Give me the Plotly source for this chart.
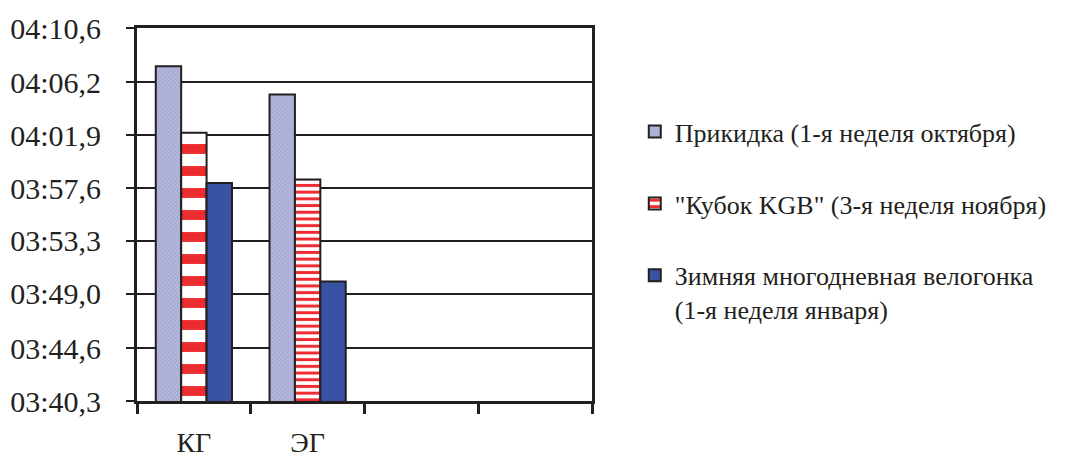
import plotly.graph_objects as go

# ---- data ----
categories = ["КГ", "ЭГ"]
n_slots = 4  # the category axis has four slots, two of them empty
series_names = [
    "Прикидка (1-я неделя октября)",
    "\"Кубок KGB\" (3-я неделя ноября)",
    "Зимняя многодневная велогонка<br>(1-я неделя января)",
]
# times in seconds
prikidka = [247.5, 245.2]
kubok = [242.1, 238.3]
zimnyaya = [238.0, 230.0]
y_tick_labels = ["03:40,3", "03:44,6", "03:49,0", "03:53,3",
                 "03:57,6", "04:01,9", "04:06,2", "04:10,6"]


def to_sec(s):
    m, rest = s.split(":")
    return int(m) * 60 + float(rest.replace(",", "."))


y_tick_vals = [to_sec(s) for s in y_tick_labels]

FONT = "Liberation Serif"
TXT = "#231f20"
x_pos = list(range(len(categories)))

fig = go.Figure()
fig.add_trace(go.Bar(
    x=x_pos, y=prikidka, name=series_names[0], legendgroup="a",
    marker=dict(color="#a9aed7", line=dict(color="#231f20", width=2),
                pattern=dict(shape="x", size=3, solidity=0.25,
                             fgcolor="#8e94c6", bgcolor="#b4b8dc", fillmode="replace")),
))
fig.add_trace(go.Bar(
    x=x_pos, y=kubok, name=series_names[1], legendgroup="b",
    marker=dict(color="#ee2b2e", line=dict(color="#231f20", width=2),
                pattern=dict(shape="-", size=[22, 6.7], solidity=0.45,
                             fgcolor="#ee2b2e", bgcolor="#ffffff", fillmode="replace")),
))
fig.add_trace(go.Bar(
    x=x_pos, y=zimnyaya, name=series_names[2], legendgroup="c",
    marker=dict(color="#3a52a3", line=dict(color="#231f20", width=2)),
))

fig.update_layout(
    width=1075, height=459,
    margin=dict(l=137, r=483, t=28, b=58, autoexpand=False),
    paper_bgcolor="white", plot_bgcolor="white",
    barmode="group", bargap=0.33, bargroupgap=0,
    font=dict(family=FONT, color=TXT),
    showlegend=True,
    legend=dict(
        x=1.094, xanchor="left", y=0.785, yanchor="top",
        font=dict(family=FONT, size=26, color=TXT),
        traceorder="grouped", tracegroupgap=35,
        itemwidth=30, valign="top", bgcolor="rgba(0,0,0,0)",
    ),
    xaxis=dict(
        range=[-0.5, n_slots - 0.5], automargin=False,
        tickmode="array", tickvals=x_pos, ticktext=categories,
        ticks="", showgrid=False, zeroline=False,
        showline=True, linecolor="#231f20", linewidth=3, mirror=True,
        tickfont=dict(family=FONT, size=28, color=TXT),
        ticklabelstandoff=14,
        minor=dict(tickvals=[i - 0.5 for i in range(n_slots + 1)],
                   ticks="outside", ticklen=10, tickwidth=3,
                   tickcolor="#231f20", showgrid=False),
    ),
    yaxis=dict(
        range=[y_tick_vals[0], y_tick_vals[-1]], automargin=False,
        tickmode="array", tickvals=y_tick_vals, ticktext=y_tick_labels,
        ticks="outside", ticklen=8, tickwidth=2, tickcolor="#231f20",
        showgrid=True, gridcolor="#231f20", gridwidth=2,
        zeroline=False,
        showline=True, linecolor="#231f20", linewidth=3, mirror=True,
        tickfont=dict(family=FONT, size=30, color=TXT),
        ticklabelstandoff=19,
    ),
)

fig.write_html("out.html", config={"displayModeBar": False},
               post_script="document.body.style.margin='0';")
